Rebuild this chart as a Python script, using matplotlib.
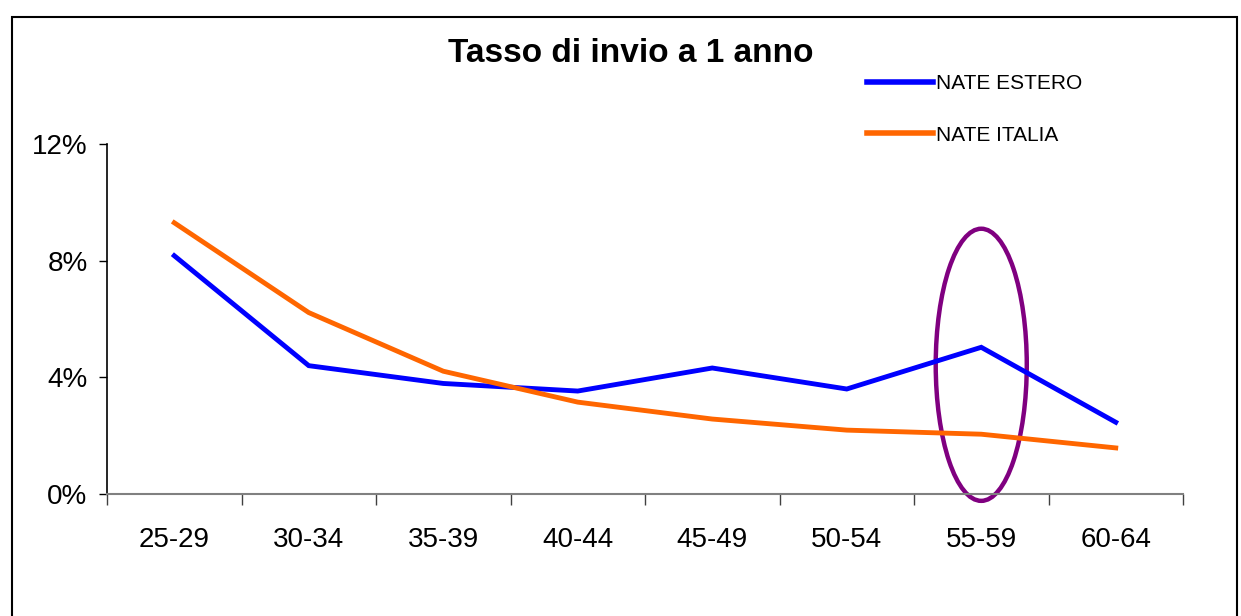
import matplotlib.pyplot as plt
import numpy as np
from matplotlib.patches import Ellipse, Rectangle
from matplotlib.ticker import FuncFormatter, FixedLocator

plt.rcParams['font.family'] = ['Liberation Sans', 'DejaVu Sans']

# age classes and send rate (%) after one year
classi = ['25-29', '30-34', '35-39', '40-44', '45-49', '50-54', '55-59', '60-64']
nate_estero = [8.17, 4.40, 3.79, 3.53, 4.32, 3.60, 5.03, 2.46]
nate_italia = [9.30, 6.22, 4.21, 3.15, 2.57, 2.19, 2.05, 1.58]

fig = plt.figure(figsize=(12.41, 6.16), dpi=100)
ax = fig.add_axes([107 / 1241, 1 - 494 / 616, (1183 - 107) / 1241, 350 / 616])

x = np.arange(len(classi))
ax.plot(x, nate_estero, color='#0000FF', lw=3.5, label='NATE ESTERO', solid_joinstyle='miter')
ax.plot(x, nate_italia, color='#FF6600', lw=3.5, label='NATE ITALIA', solid_joinstyle='miter')

# highlight the 55-59 class
idx = classi.index('55-59')
ax.add_patch(Ellipse((idx, 4.43), 0.677, 9.33, fill=False, ec='#800080', lw=3.2, clip_on=False))

ax.set_xlim(-0.5, len(classi) - 0.5)
ax.set_ylim(0, 12)
ax.set_yticks([0, 4, 8, 12])
ax.yaxis.set_major_formatter(FuncFormatter(lambda v, p: '%d%%' % v))
ax.tick_params(axis='y', length=6, width=1, pad=8, labelsize=20)

# tick marks at class boundaries, labels at class centres
ax.xaxis.set_major_locator(FixedLocator(np.arange(-0.5, len(classi), 1.0)))
ax.xaxis.set_major_formatter(FuncFormatter(lambda v, p: ''))
ax.xaxis.set_minor_locator(FixedLocator(x))
ax.set_xticklabels(classi, minor=True)
ax.tick_params(axis='x', which='major', length=8, width=1, color='#404040')
ax.tick_params(axis='x', which='minor', length=0, pad=24, labelsize=20)

for s in ['top', 'right']:
    ax.spines[s].set_visible(False)
ax.spines['bottom'].set_color('#808080')
ax.spines['bottom'].set_linewidth(1.5)
ax.spines['left'].set_linewidth(1.2)

fig.text(631 / 1241, 1 - 62 / 616, 'Tasso di invio a 1 anno', ha='center', va='baseline',
         fontsize=24, fontweight='bold')

leg = ax.legend(loc='upper left', bbox_to_anchor=(857 / 1241, 1 - 64 / 616),
                bbox_transform=fig.transFigure, frameon=False, borderpad=0,
                handlelength=3.17, handletextpad=0.12, labelspacing=1.55,
                prop={'size': 15})
for h in leg.get_lines():
    h.set_linewidth(4)

# outer frame
fig.patches.append(Rectangle((12 / 1241, -0.05), (1237 - 12) / 1241, 1.05 - 17 / 616,
                             transform=fig.transFigure, fill=False, ec='black', lw=1.5))

fig.savefig('out.png', dpi=100)
